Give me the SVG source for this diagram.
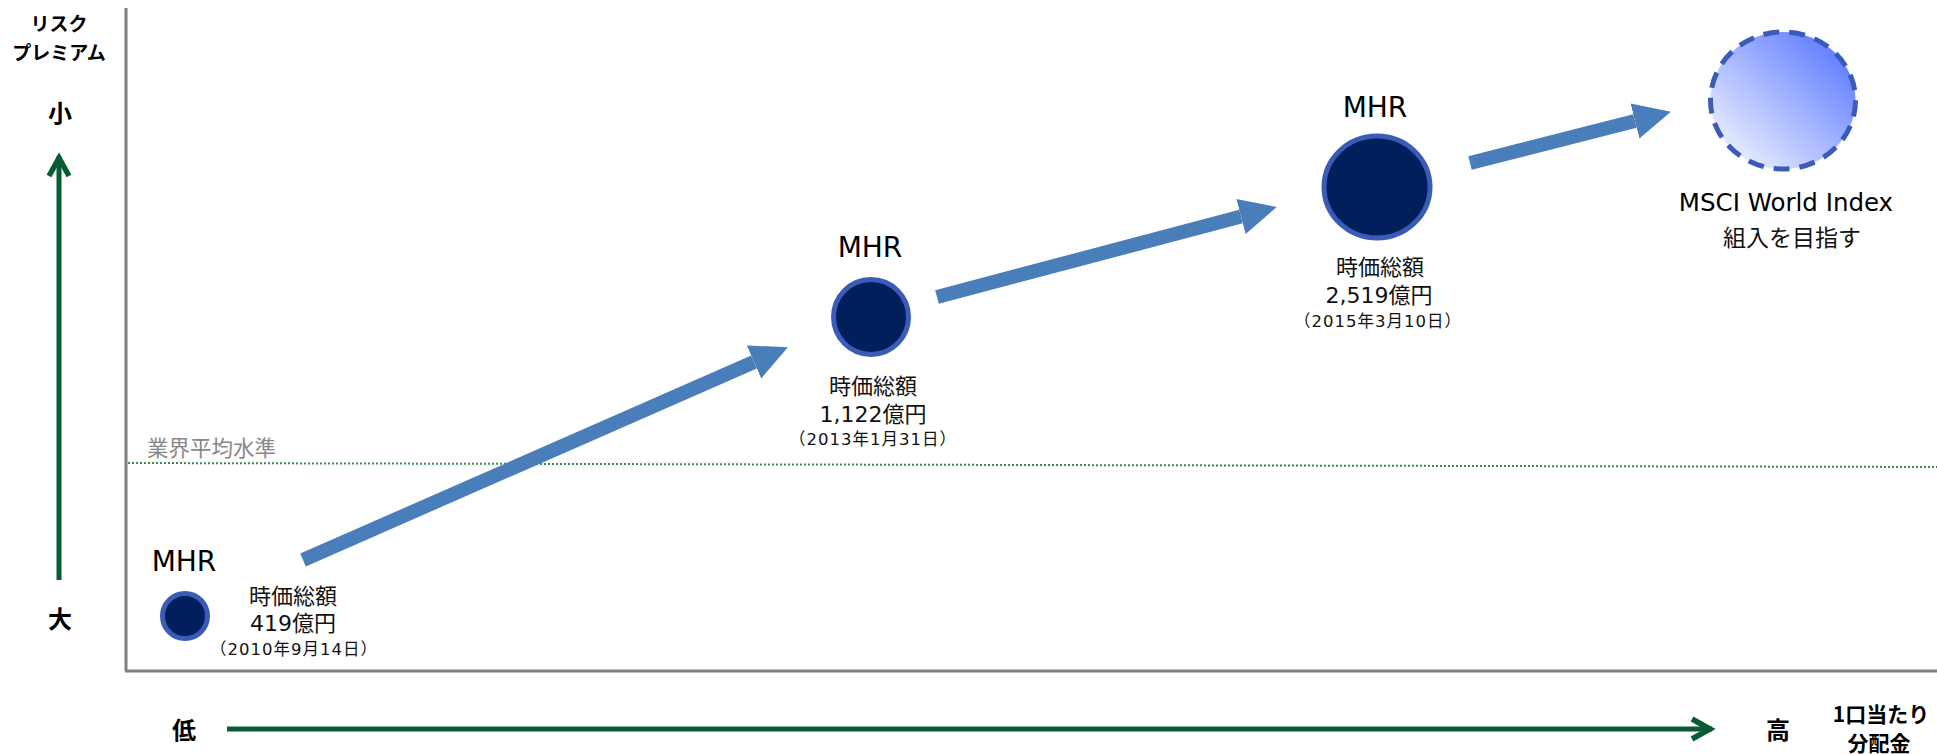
<svg xmlns="http://www.w3.org/2000/svg" width="1937" height="754" viewBox="0 0 1937 754">
<style>
.ax{font-family:"Noto Sans CJK JP","Noto Sans",sans-serif;font-weight:700;fill:#000;text-anchor:middle}
.mhr{font-family:"DejaVu Sans","Noto Sans CJK JP",sans-serif;font-size:28px;fill:#000;text-anchor:middle}
.jp{font-family:"DejaVu Sans","Noto Sans CJK JP",sans-serif;font-size:22px;fill:#111;text-anchor:middle}
.dt{font-family:"DejaVu Sans","Noto Sans CJK JP",sans-serif;font-size:16.5px;letter-spacing:1px;fill:#111;text-anchor:middle}
.dot{fill:#001f5b;stroke:#3a5cb8;stroke-width:5}
.blue{stroke:#4a7ebb;stroke-width:14;fill:none}
.green{stroke:#0a5a36;stroke-width:5;fill:none}
</style>
<defs>
<marker id="bh" markerUnits="userSpaceOnUse" markerWidth="40" markerHeight="40" viewBox="0 -20 40 40" refX="0" refY="0" orient="auto">
<path d="M0,-18 L37,0 L0,18 Z" fill="#4a7ebb"/>
</marker>
<marker id="gh" markerUnits="userSpaceOnUse" markerWidth="30" markerHeight="30" viewBox="-26 -15 30 30" refX="0" refY="0" orient="auto">
<path d="M-20,-10 L-2,0 L-20,10" fill="none" stroke="#0a5a36" stroke-width="5.5"/>
</marker>
<linearGradient id="gr" x1="1" y1="0" x2="0" y2="1">
<stop offset="0" stop-color="#4a6cff"/>
<stop offset="1" stop-color="#ffffff"/>
</linearGradient>
</defs>
<rect width="1937" height="754" fill="#fff"/>
<g id="axes">
<line x1="126" y1="8" x2="126" y2="671" stroke="#808080" stroke-width="3"/>
<line x1="125" y1="671" x2="1937" y2="671" stroke="#808080" stroke-width="3"/>
<line x1="128" y1="463" x2="1937" y2="467" stroke="#3d8a4f" stroke-width="2" stroke-dasharray="2,2"/>
<text x="147" y="456" font-family="Noto Sans CJK JP,sans-serif" font-size="21.5" fill="#888">業界平均水準</text>
<line class="green" x1="59" y1="580" x2="59" y2="156" marker-end="url(#gh)"/>
<line class="green" x1="227" y1="729" x2="1712" y2="729" marker-end="url(#gh)"/>
<text class="ax" x="59" y="31" font-size="19">リスク</text>
<text class="ax" x="59" y="60" font-size="19">プレミアム</text>
<text class="ax" x="60" y="122" font-size="24">小</text>
<text class="ax" x="60" y="628" font-size="24">大</text>
<text class="ax" x="184" y="739" font-size="24">低</text>
<text class="ax" x="1778" y="739" font-size="24">高</text>
<text class="ax" x="1881" y="722" font-size="21">1口当たり</text>
<text class="ax" x="1879" y="751" font-size="21">分配金</text>
</g>
<g id="connectors">
<line class="blue" x1="303" y1="560" x2="754" y2="362" marker-end="url(#bh)"/>
<line class="blue" x1="937" y1="297" x2="1241" y2="216.5" marker-end="url(#bh)"/>
<line class="blue" x1="1470" y1="163" x2="1635" y2="121" marker-end="url(#bh)"/>
</g>
<g id="node1">
<circle class="dot" cx="185" cy="616" r="22.5"/>
<text class="mhr" x="184" y="571">MHR</text>
<text class="jp" x="293" y="604">時価総額</text>
<text class="jp" x="293" y="631">419億円</text>
<text class="dt" x="294" y="655">（2010年9月14日）</text>
</g>
<g id="node2">
<circle class="dot" cx="871" cy="317" r="37.5"/>
<text class="mhr" x="870" y="257">MHR</text>
<text class="jp" x="873" y="394">時価総額</text>
<text class="jp" x="873" y="422">1,122億円</text>
<text class="dt" x="873" y="445">（2013年1月31日）</text>
</g>
<g id="node3">
<ellipse class="dot" cx="1377" cy="187" rx="53" ry="51"/>
<text class="mhr" x="1375" y="117">MHR</text>
<text class="jp" x="1380" y="275">時価総額</text>
<text class="jp" x="1379" y="303">2,519億円</text>
<text class="dt" x="1378" y="327">（2015年3月10日）</text>
</g>
<g id="node4">
<ellipse cx="1783" cy="100.5" rx="72.5" ry="68.5" fill="url(#gr)" stroke="#3a5cb8" stroke-width="5" stroke-dasharray="16,10"/>
<text class="mhr" x="1786" y="211" style="font-size:24.5px">MSCI World Index</text>
<text class="jp" x="1792" y="246" style="font-size:23px">組入を目指す</text>
</g>
</svg>
